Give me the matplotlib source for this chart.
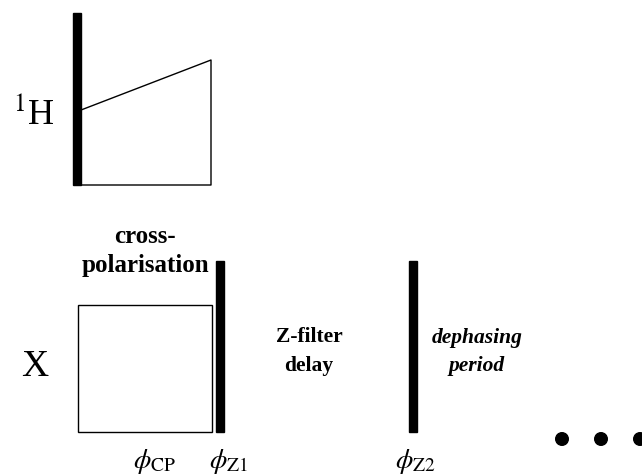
import matplotlib
matplotlib.use("Agg")
import matplotlib.pyplot as plt
from matplotlib.patches import Rectangle, Circle

plt.rcParams['font.family'] = ['Liberation Serif', 'DejaVu Serif']
plt.rcParams['mathtext.fontset'] = 'stix'

# ---- content ----
channels = ["$^{1}$H", "X"]
block_labels = ["cross-\npolarisation", "Z-filter\ndelay"]
period_label = "dephasing\nperiod"
phase_labels = [r"$\phi_{\mathrm{CP}}$", r"$\phi_{\mathrm{Z1}}$", r"$\phi_{\mathrm{Z2}}$"]
# time / amplitude layout (pixel-like units)
h_pulse_x = [77]
h_ramp_x = [81, 211]
h_ramp_y = [110, 60]
h_base_y = 185
h_top_y = 13
x_box = [78, 212]
x_box_y = [305, 432]
x_pulses_x = [220, 413]
x_pulse_top = 261
dots_x = [562, 601, 640]
dots_y = 439

fig = plt.figure(figsize=(6.42, 4.75), dpi=100)
ax = fig.add_axes([0, 0, 1, 1])
ax.set_xlim(0, 642)
ax.set_ylim(475, 0)
ax.axis('off')

# 1H channel
ax.add_patch(Rectangle((h_pulse_x[0] - 4, h_top_y), 8, h_base_y - h_top_y, color='black'))
ax.plot([h_ramp_x[0], h_ramp_x[1], h_ramp_x[1], h_ramp_x[0]],
        [h_ramp_y[0], h_ramp_y[1], h_base_y, h_base_y], color='black', lw=1)
ax.text(55, 114, channels[0], fontsize=26, ha='right', va='center')

# X channel
ax.add_patch(Rectangle((x_box[0], x_box_y[0]), x_box[1] - x_box[0], x_box_y[1] - x_box_y[0],
                       fill=False, edgecolor='black', lw=1))
for px in x_pulses_x:
    ax.add_patch(Rectangle((px - 4, x_pulse_top), 8, x_box_y[1] - x_pulse_top, color='black'))
ax.text(35, 367, channels[1], fontsize=27, ha='center', va='center')

ax.text(145, 251, block_labels[0], fontsize=18, fontweight='bold', ha='center', va='center',
        linespacing=1.28)
ax.text(309, 352, block_labels[1], fontsize=15.5, fontweight='bold', ha='center', va='center',
        linespacing=1.6)
ax.text(477, 352, period_label, fontsize=15.5, fontweight='bold', style='italic', ha='center',
        va='center', linespacing=1.6)

phase_x = [154, 228, 415]
for lx, lab in zip(phase_x, phase_labels):
    ax.text(lx, 461, lab, fontsize=20, ha='center', va='center')

for dx in dots_x:
    ax.add_patch(Circle((dx, dots_y), 6.3, color='black'))

fig.savefig("out.png", dpi=100)
